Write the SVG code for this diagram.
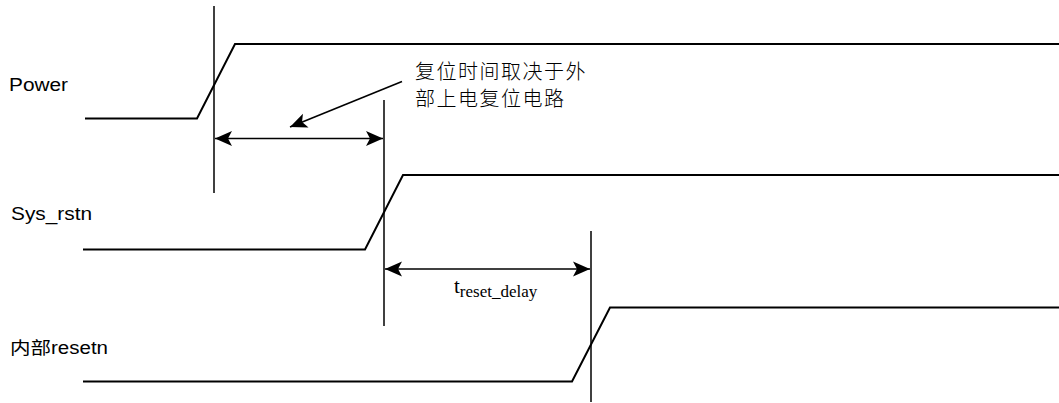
<svg xmlns="http://www.w3.org/2000/svg" width="1059" height="403" viewBox="0 0 1059 403">
<style>
.wave{fill:none;stroke:#000;stroke-width:2;stroke-linejoin:miter}
.guide{fill:none;stroke:#000;stroke-width:1.5}
.arr{fill:none;stroke:#000;stroke-width:1.6}
.lbl{font-family:"Liberation Sans","Noto Sans CJK SC",Arial,sans-serif;font-size:17.5px;fill:#000}
.note{font-family:"Noto Sans CJK SC",sans-serif;font-size:20px;font-weight:300;letter-spacing:1.5px;fill:#000}
.t{font-family:"Liberation Serif","Times New Roman",serif;fill:#000}
</style>
<defs>
<marker id="ah" markerUnits="userSpaceOnUse" viewBox="0 0 17 16" refX="17" refY="8" markerWidth="17" markerHeight="16" orient="auto-start-reverse">
<path d="M0,0.5 L17,8 L0,15.5 L4,8 Z" fill="#000"/>
</marker>
</defs>
<g id="labels">
<text class="lbl" x="9" y="91" textLength="59" lengthAdjust="spacingAndGlyphs">Power</text>
<text class="lbl" x="11" y="219.5" textLength="81" lengthAdjust="spacingAndGlyphs">Sys_rstn</text>
<text class="lbl" x="10" y="354" textLength="98" lengthAdjust="spacingAndGlyphs">内部resetn</text>
</g>
<g id="power">
<polyline class="wave" points="85,118.5 197,118.5 235,44 1059,44"/>
</g>
<g id="sys_rstn">
<polyline class="wave" points="83,249.5 365,249.5 403,175 1059,175"/>
</g>
<g id="resetn">
<polyline class="wave" points="83,381.5 572,381.5 610,307.5 1059,307.5"/>
</g>
<g id="guides">
<line class="guide" x1="214" y1="6" x2="214" y2="193"/>
<line class="guide" x1="384" y1="100" x2="384" y2="326"/>
<line class="guide" x1="591" y1="231" x2="591" y2="402"/>
</g>
<g id="connectors">
<line class="arr" x1="215" y1="138.5" x2="383" y2="138.5" marker-start="url(#ah)" marker-end="url(#ah)"/>
<line class="arr" x1="385" y1="269" x2="590" y2="269" marker-start="url(#ah)" marker-end="url(#ah)"/>
<line class="arr" x1="402" y1="81.5" x2="290" y2="127" marker-end="url(#ah)"/>
</g>
<g id="annotation">
<text class="note" x="415" y="79">复位时间取决于外</text>
<text class="note" x="415" y="106">部上电复位电路</text>
</g>
<g id="tdelay">
<text class="t" x="454" y="293" font-size="21">t<tspan font-size="17" dy="4">reset_delay</tspan></text>
</g>
</svg>
